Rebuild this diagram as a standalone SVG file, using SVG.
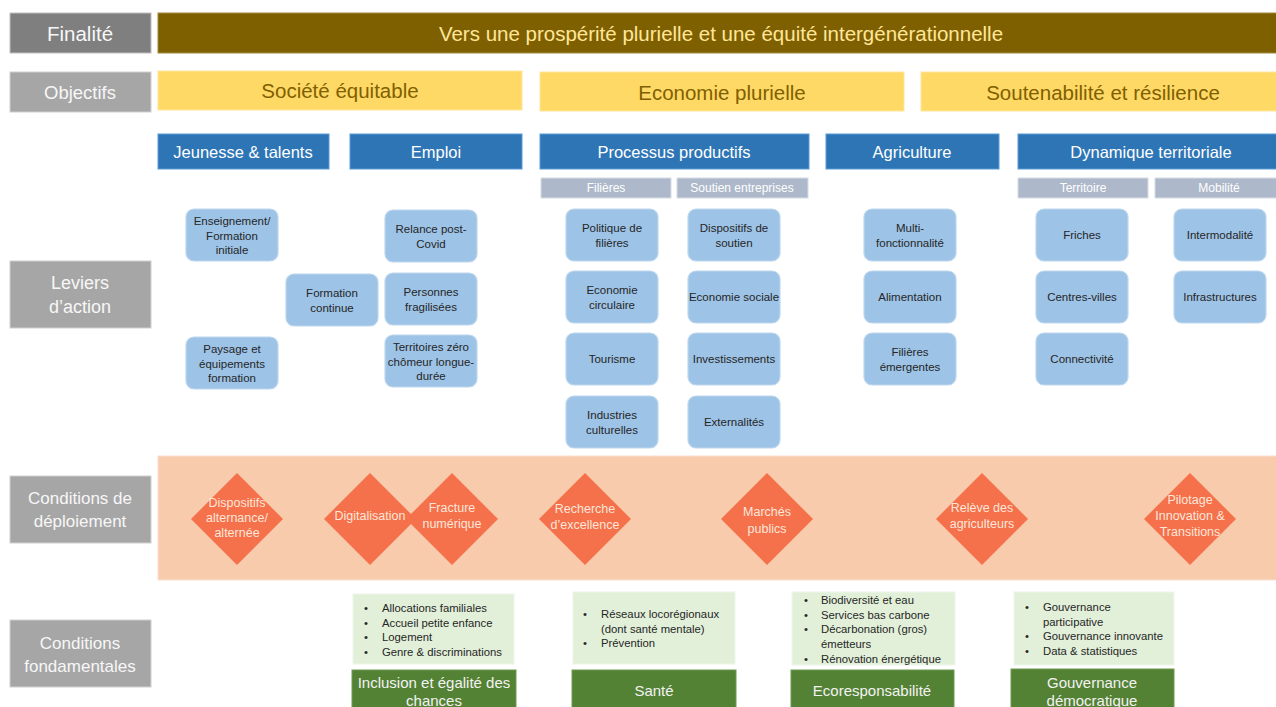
<svg xmlns="http://www.w3.org/2000/svg" width="1276" height="707" viewBox="0 0 1276 707">
<style>
text{font-family:"Liberation Sans",Arial,sans-serif;text-anchor:middle;dominant-baseline:central}
.side{fill:#a6a6a6;stroke:#d0d0d0;stroke-width:1}
.sidet{fill:#f7f7f7;font-size:17px}
.obj{fill:#ffd966;stroke:#ffe699;stroke-width:1}
.objt{fill:#7f6000;font-size:20.5px}
.hdr{fill:#2e75b6;stroke:#5b9bd5;stroke-width:1}
.hdrt{fill:#ffffff;font-size:16.5px}
.sub{fill:#adb9ca;stroke:#d6dce5;stroke-width:1}
.subt{fill:#ffffff;font-size:12px}
.lev{fill:#9dc3e6;stroke:#bdd7ee;stroke-width:1.2}
.levt{fill:#262626;font-size:11.5px}
.dia{fill:#f4714b}
.diat{fill:#fde6da;font-size:12.5px}
.lg{fill:#e2f0d9;stroke:#eef6e9;stroke-width:1}
.bt{fill:#262626;font-size:11.3px;text-anchor:start}
.dg{fill:#548235;stroke:#6f9a50;stroke-width:1}
.dgt{fill:#f2f2f2;font-size:15px}
</style>

<g id="labels">
  <g id="lbl-finalite"><rect x="10" y="13" width="141" height="40" fill="#7f7f7f" stroke="#c0c0c0"/><text x="80" y="33" class="sidet" style="font-size:20.5px">Finalité</text></g>
  <g id="lbl-objectifs"><rect class="side" x="10" y="72" width="141" height="40"/><text x="80" y="92" class="sidet" style="font-size:18.5px">Objectifs</text></g>
  <g id="lbl-leviers"><rect class="side" x="10" y="261" width="141" height="67"/><text x="80" y="283" class="sidet" style="font-size:18px">Leviers</text><text x="80" y="307" class="sidet" style="font-size:18px">d’action</text></g>
  <g id="lbl-deploiement"><rect class="side" x="10" y="476" width="141" height="67"/><text x="80" y="498" class="sidet">Conditions de</text><text x="80" y="521" class="sidet">déploiement</text></g>
  <g id="lbl-fondamentales"><rect class="side" x="10" y="620" width="141" height="67"/><text x="80" y="643" class="sidet">Conditions</text><text x="80" y="666" class="sidet">fondamentales</text></g>
</g>

<g id="finalite"><rect x="158" y="13" width="1120" height="40" fill="#7f6000" stroke="#a08a3a"/><text x="721" y="33" fill="#ffe699" style="font-size:20.5px">Vers une prospérité plurielle et une équité intergénérationnelle</text></g>

<g id="objectifs">
  <g id="obj-societe"><rect class="obj" x="158" y="71" width="364" height="39"/><text class="objt" x="340" y="90">Société équitable</text></g>
  <g id="obj-economie"><rect class="obj" x="540" y="72" width="364" height="39"/><text class="objt" x="722" y="92">Economie plurielle</text></g>
  <g id="obj-soutenabilite"><rect class="obj" x="921" y="72" width="357" height="39"/><text class="objt" x="1103" y="92">Soutenabilité et résilience</text></g>
</g>

<g id="headers">
  <g id="h-jeunesse"><rect class="hdr" x="158" y="134" width="171" height="35"/><text class="hdrt" x="243" y="152">Jeunesse &amp; talents</text></g>
  <g id="h-emploi"><rect class="hdr" x="350" y="134" width="172" height="35"/><text class="hdrt" x="436" y="152">Emploi</text></g>
  <g id="h-processus"><rect class="hdr" x="540" y="134" width="269" height="35"/><text class="hdrt" x="674" y="152">Processus productifs</text></g>
  <g id="h-agriculture"><rect class="hdr" x="826" y="134" width="173" height="35"/><text class="hdrt" x="912" y="152">Agriculture</text></g>
  <g id="h-dynamique"><rect class="hdr" x="1018" y="134" width="260" height="35"/><text class="hdrt" x="1151" y="152">Dynamique territoriale</text></g>
  <g id="s-filieres"><rect class="sub" x="541" y="178" width="130" height="20"/><text class="subt" x="606" y="188">Filières</text></g>
  <g id="s-soutien"><rect class="sub" x="677" y="178" width="131" height="20"/><text class="subt" x="742" y="188">Soutien entreprises</text></g>
  <g id="s-territoire"><rect class="sub" x="1018" y="178" width="130" height="20"/><text class="subt" x="1083" y="188">Territoire</text></g>
  <g id="s-mobilite"><rect class="sub" x="1155" y="178" width="123" height="20"/><text class="subt" x="1219" y="188">Mobilité</text></g>
</g>

<g id="leviers">
  <g id="l-enseignement"><rect class="lev" x="186" y="209" width="92" height="52" rx="8"/><text class="levt" x="232" y="221">Enseignement/</text><text class="levt" x="232" y="235.5">Formation</text><text class="levt" x="232" y="250">initiale</text></g>
  <g id="l-paysage"><rect class="lev" x="186" y="337" width="92" height="52" rx="8"/><text class="levt" x="232" y="349">Paysage et</text><text class="levt" x="232" y="363.5">équipements</text><text class="levt" x="232" y="378">formation</text></g>
  <g id="l-formation-continue"><rect class="lev" x="286" y="274" width="92" height="52" rx="8"/><text class="levt" x="332" y="293">Formation</text><text class="levt" x="332" y="307.5">continue</text></g>
  <g id="l-relance"><rect class="lev" x="385" y="210" width="92" height="52" rx="8"/><text class="levt" x="431" y="229">Relance post-</text><text class="levt" x="431" y="243.5">Covid</text></g>
  <g id="l-personnes"><rect class="lev" x="385" y="273" width="92" height="52" rx="8"/><text class="levt" x="431" y="292">Personnes</text><text class="levt" x="431" y="306.5">fragilisées</text></g>
  <g id="l-territoires-zero"><rect class="lev" x="385" y="335" width="92" height="52" rx="8"/><text class="levt" x="431" y="347">Territoires zéro</text><text class="levt" x="431" y="361.5">chômeur longue-</text><text class="levt" x="431" y="376">durée</text></g>

  <g id="l-politique"><rect class="lev" x="566" y="209" width="92" height="52" rx="8"/><text class="levt" x="612" y="228">Politique de</text><text class="levt" x="612" y="242.5">filières</text></g>
  <g id="l-eco-circ"><rect class="lev" x="566" y="271" width="92" height="52" rx="8"/><text class="levt" x="612" y="290">Economie</text><text class="levt" x="612" y="304.5">circulaire</text></g>
  <g id="l-tourisme"><rect class="lev" x="566" y="333" width="92" height="52" rx="8"/><text class="levt" x="612" y="359">Tourisme</text></g>
  <g id="l-industries"><rect class="lev" x="566" y="396" width="92" height="52" rx="8"/><text class="levt" x="612" y="415">Industries</text><text class="levt" x="612" y="429.5">culturelles</text></g>
  <g id="l-dispositifs"><rect class="lev" x="688" y="209" width="92" height="52" rx="8"/><text class="levt" x="734" y="228">Dispositifs de</text><text class="levt" x="734" y="242.5">soutien</text></g>
  <g id="l-eco-sociale"><rect class="lev" x="688" y="271" width="92" height="52" rx="8"/><text class="levt" x="734" y="297">Economie sociale</text></g>
  <g id="l-investissements"><rect class="lev" x="688" y="333" width="92" height="52" rx="8"/><text class="levt" x="734" y="359">Investissements</text></g>
  <g id="l-externalites"><rect class="lev" x="688" y="396" width="92" height="52" rx="8"/><text class="levt" x="734" y="422">Externalités</text></g>

  <g id="l-multi"><rect class="lev" x="864" y="209" width="92" height="52" rx="8"/><text class="levt" x="910" y="228">Multi-</text><text class="levt" x="910" y="242.5">fonctionnalité</text></g>
  <g id="l-alimentation"><rect class="lev" x="864" y="271" width="92" height="52" rx="8"/><text class="levt" x="910" y="297">Alimentation</text></g>
  <g id="l-filieres-em"><rect class="lev" x="864" y="333" width="92" height="52" rx="8"/><text class="levt" x="910" y="352">Filières</text><text class="levt" x="910" y="366.5">émergentes</text></g>

  <g id="l-friches"><rect class="lev" x="1036" y="209" width="92" height="52" rx="8"/><text class="levt" x="1082" y="235">Friches</text></g>
  <g id="l-centres"><rect class="lev" x="1036" y="271" width="92" height="52" rx="8"/><text class="levt" x="1082" y="297">Centres-villes</text></g>
  <g id="l-connectivite"><rect class="lev" x="1036" y="333" width="92" height="52" rx="8"/><text class="levt" x="1082" y="359">Connectivité</text></g>
  <g id="l-intermodalite"><rect class="lev" x="1174" y="209" width="92" height="52" rx="8"/><text class="levt" x="1220" y="235">Intermodalité</text></g>
  <g id="l-infrastructures"><rect class="lev" x="1174" y="271" width="92" height="52" rx="8"/><text class="levt" x="1220" y="297">Infrastructures</text></g>
</g>

<g id="deploiement">
  <rect x="158" y="456" width="1120" height="124" fill="#f8cbad" stroke="#fbe0cf"/>
  <g id="d-dispositifs"><polygon class="dia" points="237,473 283,519 237,565 191,519"/><text class="diat" x="237" y="503">Dispositifs</text><text class="diat" x="237" y="518">alternance/</text><text class="diat" x="237" y="533">alternée</text></g>
  <g id="d-digitalisation"><polygon class="dia" points="370,473 416,519 370,565 324,519"/></g>
  <g id="d-fracture"><polygon class="dia" points="452,473 498,519 452,565 406,519"/><text class="diat" x="452" y="508">Fracture</text><text class="diat" x="452" y="524">numérique</text></g>
  <text class="diat" x="370" y="516">Digitalisation</text>
  <g id="d-recherche"><polygon class="dia" points="585,473 631,519 585,565 539,519"/><text class="diat" x="585" y="509">Recherche</text><text class="diat" x="585" y="525">d’excellence</text></g>
  <g id="d-marches"><polygon class="dia" points="767,473 813,519 767,565 721,519"/><text class="diat" x="767" y="512">Marchés</text><text class="diat" x="767" y="529">publics</text></g>
  <g id="d-releve"><polygon class="dia" points="982,473 1028,519 982,565 936,519"/><text class="diat" x="982" y="508">Relève des</text><text class="diat" x="982" y="524">agriculteurs</text></g>
  <g id="d-pilotage"><polygon class="dia" points="1190,473 1236,519 1190,565 1144,519"/><text class="diat" x="1190" y="500">Pilotage</text><text class="diat" x="1190" y="516">Innovation &amp;</text><text class="diat" x="1190" y="532">Transitions</text></g>
</g>

<g id="fondamentales">
  <g id="f-inclusion">
    <rect class="lg" x="353" y="594" width="161" height="70"/>
    <text class="bt" x="364" y="608">•</text><text class="bt" x="382" y="608">Allocations familiales</text>
    <text class="bt" x="364" y="622.5">•</text><text class="bt" x="382" y="622.5">Accueil petite enfance</text>
    <text class="bt" x="364" y="637">•</text><text class="bt" x="382" y="637">Logement</text>
    <text class="bt" x="364" y="651.5">•</text><text class="bt" x="382" y="651.5">Genre &amp; discriminations</text>
    <rect class="dg" x="352" y="670" width="164" height="40"/>
    <text class="dgt" x="434" y="682">Inclusion et égalité des</text><text class="dgt" x="434" y="700">chances</text>
  </g>
  <g id="f-sante">
    <rect class="lg" x="573" y="592" width="162" height="72"/>
    <text class="bt" x="583" y="614">•</text><text class="bt" x="601" y="614">Réseaux locorégionaux</text>
    <text class="bt" x="601" y="628.5">(dont santé mentale)</text>
    <text class="bt" x="583" y="643">•</text><text class="bt" x="601" y="643">Prévention</text>
    <rect class="dg" x="572" y="670" width="164" height="40"/>
    <text class="dgt" x="654" y="690">Santé</text>
  </g>
  <g id="f-eco">
    <rect class="lg" x="792" y="592" width="163" height="73"/>
    <text class="bt" x="804" y="600">•</text><text class="bt" x="821" y="600">Biodiversité et eau</text>
    <text class="bt" x="804" y="614.5">•</text><text class="bt" x="821" y="614.5">Services bas carbone</text>
    <text class="bt" x="804" y="629">•</text><text class="bt" x="821" y="629">Décarbonation (gros)</text>
    <text class="bt" x="821" y="644">émetteurs</text>
    <text class="bt" x="804" y="658.5">•</text><text class="bt" x="821" y="658.5">Rénovation énergétique</text>
    <rect class="dg" x="791" y="670" width="163" height="40"/>
    <text class="dgt" x="872" y="690">Ecoresponsabilité</text>
  </g>
  <g id="f-gouvernance">
    <rect class="lg" x="1014" y="592" width="160" height="73"/>
    <text class="bt" x="1025" y="607">•</text><text class="bt" x="1043" y="607">Gouvernance</text>
    <text class="bt" x="1043" y="621.5">participative</text>
    <text class="bt" x="1025" y="636">•</text><text class="bt" x="1043" y="636">Gouvernance innovante</text>
    <text class="bt" x="1025" y="650.5">•</text><text class="bt" x="1043" y="650.5">Data &amp; statistiques</text>
    <rect class="dg" x="1011" y="669" width="163" height="41"/>
    <text class="dgt" x="1092" y="682">Gouvernance</text><text class="dgt" x="1092" y="700">démocratique</text>
  </g>
</g>

<g id="connectors"></g>
</svg>
